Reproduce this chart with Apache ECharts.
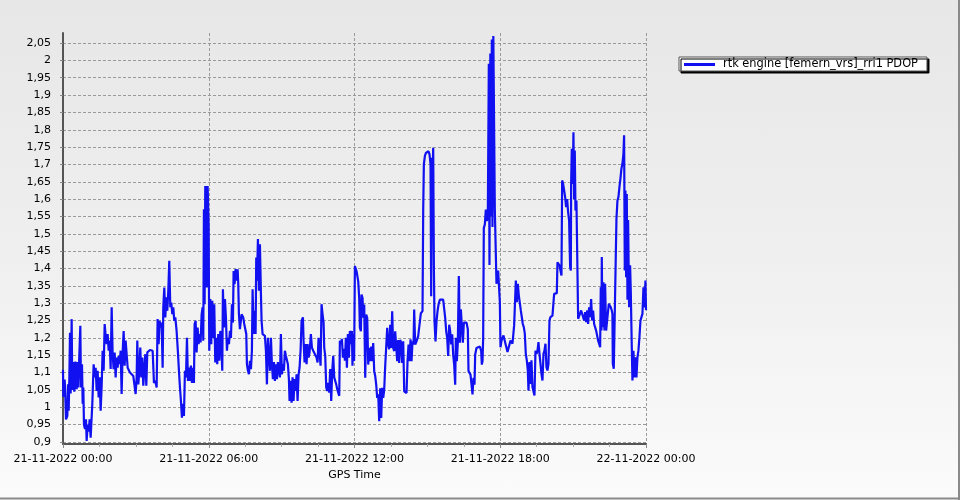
<!DOCTYPE html>
<html>
<head>
<meta charset="utf-8">
<script src="https://cdn.jsdelivr.net/npm/echarts@6/dist/echarts.min.js"></script>
<style>
html,body{margin:0;padding:0;}
#main{width:960px;height:500px;background:linear-gradient(to bottom,#e7e7e7 0%,#efefef 50%,#fbfbfb 100%);}
</style>
</head>
<body>
<div id="main"></div>
<script>
// Minutes since 21-11-2022 00:00 (GPS Time)
const minutes = [
0,0.8,4.1,5.8,7.4,10.7,12.3,14.0,15.6,17.3,18.9,21.4,23.0,25.5,28.0,30.5,33.7,36.2,37.9,40.3,42.8,44.4,46.9,48.6,50.2,51.8,54.3,56.8,58.4,60.9,63.4,65.8,68.3,70.8,72.4,74.1,75.7,78.2,80.7,83.1,85.6,88.1,90.5,93.0,95.5,97.9,100.4,102.9,105.3,107.8,110.3,112.8,115.2,117.7,120.2,122.6,125.1,127.6,130.0,132.5,135.0,137.4,139.9,142.4,144.8,147.3,149.8,152.3,154.7,157.2,159.7,162.1,165.4,169.5,173.7,177.8,179.4,181.9,183.5,186.0,188.5,190.9,193.4,195.9,198.3,200.8,203.3,205.8,208.2,210.7,214.8,221.4,224.7,228.0,231.3,233.7,236.2,238.7,241.1,243.6,246.1,247.7,250.2,252.7,255.1,257.6,260.1,262.5,265.0,267.5,269.9,272.4,274.9,277.4,280.6,283.9,286.4,288.9,291.3,293.8,296.3,298.7,301.2,303.7,306.2,308.6,311.1,313.6,316.0,318.5,321.0,323.4,325.1,327.6,330.0,332.5,335.0,337.4,339.9,342.4,344.8,346.5,348.1,349.8,351.4,353.1,354.7,355.5,357.2,359.7,361.3,
363.8,366.2,368.7,371.2,373.6,376.1,378.6,381.0,383.5,386.0,388.5,390.9,393.4,395.0,397.5,400.0,402.4,404.9,407.4,409.9,412.3,414.8,417.3,419.7,421.4,423.8,426.3,428.8,431.3,432.9,434.5,437.0,441.1,445.2,447.7,450.2,452.7,454.3,456.8,459.2,461.7,464.2,466.6,468.3,470.8,473.2,475.7,477.3,479.0,481.5,483.9,486.4,488.9,490.5,493.0,495.4,498.7,501.2,503.7,506.1,508.6,511.1,513.6,516.0,518.5,521.0,523.4,525.9,528.4,530.8,533.3,535.8,538.2,540.7,543.2,545.6,548.1,550.6,553.1,555.5,558.0,559.6,562.1,564.6,567.0,569.5,572.0,574.5,576.9,579.4,581.9,584.3,586.8,589.3,592.6,594.2,596.7,599.1,601.6,604.1,606.6,609.0,612.3,614.8,618.1,622.2,626.3,628.8,631.2,633.7,636.2,638.6,641.1,643.6,645.2,647.7,650.2,652.6,655.1,657.6,660.0,662.5,665.0,667.5,669.9,672.4,674.9,677.3,679.8,682.3,683.9,686.4,688.9,691.3,693.8,696.3,698.7,701.2,703.7,706.1,708.6,711.1,713.5,715.0,717.0,719.0,
721.0,725.1,729.2,731.6,733.3,735.8,737.4,739.9,741.5,744.0,746.5,748.9,751.4,753.9,756.3,758.8,761.3,763.7,766.2,768.7,771.2,773.6,776.1,778.6,781.0,783.5,786.0,788.4,790.9,793.4,795.8,798.3,800.8,803.2,805.7,808.2,810.7,813.1,815.6,818.1,820.5,823.0,825.5,827.9,830.4,832.9,835.3,837.8,840.3,842.8,845.2,848.5,851.0,853.5,855.9,858.4,860.9,863.3,865.8,867.4,869.9,873.2,877.3,881.4,883.9,888.0,889.7,891.3,893.8,896.2,898.7,902.8,905.3,907.8,909.4,911.1,912.7,914.4,916.0,917.6,920.1,922.6,925.1,927.5,930.8,934.9,939.0,941.5,944.0,946.5,948.9,951.4,953.9,956.3,958.8,961.3,963.7,966.2,968.7,970.3,972.8,975.3,977.7,980.2,982.7,985.1,987.6,990.1,992.5,996.7,999.9,1001.6,1004.1,1006.5,1009.8,1011.5,1013.9,1016.4,1018.1,1021.3,1025.5,1029.6,1032.9,1034.5,1036.2,1037.8,1039.4,1041.9,1044.4,1046.9,1049.3,1051.8,1053.4,1055.5,1057.5,1059.2,1060.8,1062.9,1065.0,1066.6,
1069.1,1070.7,1073.2,1074.8,1077.3,1079.0,1080.6,1083.1,1085.5,1088.0,1090.5,1092.9,1095.4,1097.9,1100.4,1102.8,1105.3,1107.8,1110.2,1112.7,1114.3,1116.8,1118.5,1120.9,1123.4,1125.9,1128.3,1130.8,1133.3,1135.7,1138.2,1140.7,1143.1,1145.6,1148.1,1149.7,1152.2,1154.7,1157.1,1159.6,1162.1,1164.5,1167.0,1169.5,1172.0,1174.4,1176.9,1179.4,1181.8,1184.3,1186.8,1189.2,1191.7,1194.2,1196.6,1199.1,1201.6,1204.0,1206.5,1209.0,1211.5,1213.1,1216.4,1219.7,1221.3,1223.8,1226.3,1228.7,1231.2,1232.9,1235.3,1237.8,1240.3,1242.7,1245.2,1247.7,1250.1,1252.6,1254.3,1255.1,1256.7,1259.2,1260.8,1262.5,1264.1,1265.8,1268.2,1270.7,1272.4,1274.8,1277.3,1279.8,1282.2,1284.7,1287.2,1289.6,1292.1,1294.6,1297.0,1299.5,1302.0,1304.5,1306.9,1309.4,1311.9,1314.3,1316.8,1319.3,1321.7,1324.2,1326.7,1328.3,1330.0,1330.8,1332.4,1334.9,1337.4,1339.0,1341.5,1344.0,1346.4,1348.1,1350.5,1353.0,1355.5,1357.1,1358.0,1360.4,1364.5,1366.2,1367.0,1369.5,1371.9,1374.4,1376.9,1379.3,1381.8,1384.3,1385.9,1387.6,1389.2,1390.9,1392.5,1394.2,1395.8,1398.3,1400.7,1402.4,1404.9,1406.5,1409.0,1411.4,1413.9,1416.4,1418.9,1421.3,1423.8,1426.3,1428.7,1431.2,1433.7,1436.1,1438.6,1440
];
// PDOP values
const pdop = [
1.108,1.03,1.08,1.03,0.965,0.975,1.066,0.99,1.08,1.215,1.04,1.254,1.05,1.13,1.045,1.132,1.052,1.13,1.057,1.148,1.235,1.057,1.124,1.01,1.057,0.95,0.937,0.965,0.903,0.95,0.93,0.965,0.912,0.917,1.01,1.07,1.124,1.086,1.114,1.047,1.105,1.028,1.086,0.99,1.062,1.163,1.105,1.24,1.206,1.182,1.211,1.163,1.192,1.11,1.288,1.153,1.11,1.158,1.086,1.143,1.114,1.148,1.124,1.163,1.038,1.158,1.22,1.12,1.192,1.187,1.114,1.11,1.1,1.105,1.09,1.095,1.038,1.086,1.192,1.066,1.105,1.172,1.086,1.143,1.062,1.105,1.153,1.062,1.158,1.163,1.165,1.163,1.07,1.076,1.057,1.254,1.182,1.249,1.23,1.244,1.114,1.288,1.345,1.259,1.317,1.278,1.336,1.422,1.288,1.302,1.268,1.288,1.249,1.259,1.22,1.158,1.105,1.057,1.018,0.97,1.01,0.975,1.105,1.086,1.2,1.076,1.114,1.076,1.12,1.07,1.114,1.07,1.24,1.249,1.158,1.23,1.182,1.211,1.187,1.268,1.288,1.192,1.571,1.297,1.638,1.432,1.638,1.345,1.638,1.523,1.163,
1.312,1.182,1.307,1.2,1.297,1.129,1.2,1.124,1.211,1.134,1.22,1.182,1.105,1.34,1.23,1.312,1.259,1.163,1.2,1.182,1.22,1.2,1.297,1.244,1.393,1.355,1.398,1.365,1.398,1.355,1.268,1.225,1.268,1.259,1.24,1.24,1.211,1.124,1.105,1.095,1.134,1.11,1.163,1.34,1.211,1.278,1.211,1.432,1.365,1.485,1.336,1.47,1.326,1.249,1.211,1.211,1.206,1.163,1.066,1.2,1.153,1.105,1.2,1.124,1.081,1.13,1.076,1.124,1.081,1.13,1.105,1.086,1.211,1.095,1.124,1.105,1.163,1.148,1.143,1.124,1.081,1.018,1.076,1.013,1.086,1.018,1.081,1.047,1.095,1.018,1.095,1.114,1.163,1.249,1.259,1.192,1.129,1.182,1.124,1.182,1.143,1.158,1.211,1.172,1.163,1.158,1.143,1.129,1.2,1.158,1.12,1.297,1.268,1.244,1.172,1.148,1.057,1.047,1.07,1.042,1.11,1.018,1.105,1.148,1.086,1.076,1.066,1.052,1.042,1.033,1.192,1.182,1.197,1.143,1.168,1.134,1.2,1.114,1.211,1.143,1.22,1.182,1.22,1.12,1.21,1.133,
1.407,1.392,1.363,1.315,1.229,1.219,1.325,1.315,1.258,1.296,1.085,1.267,1.258,1.123,1.171,1.133,1.175,1.133,1.185,1.104,1.09,1.065,1.027,1.037,0.96,1.055,0.969,1.056,1.027,1.051,1.118,1.113,1.229,1.181,1.167,1.238,1.171,1.277,1.171,1.162,1.219,1.223,1.133,1.194,1.128,1.194,1.185,1.128,1.19,1.046,1.041,1.041,1.133,1.181,1.133,1.196,1.133,1.19,1.181,1.282,1.181,1.19,1.205,1.21,1.271,1.277,1.565,1.7,1.724,1.733,1.738,1.738,1.729,1.7,1.32,1.719,1.652,1.748,1.412,1.248,1.19,1.248,1.277,1.296,1.31,1.315,1.31,1.306,1.258,1.219,1.2,1.148,1.238,1.219,1.181,1.21,1.152,1.123,1.065,1.2,1.133,1.19,1.378,1.186,1.282,1.233,1.186,1.244,1.244,1.244,1.225,1.104,1.099,1.094,1.09,1.037,1.085,1.065,1.152,1.171,1.175,1.175,1.162,1.123,1.133,1.2,1.517,1.527,1.57,1.537,1.55,1.99,1.41,2.02,1.55,2.06,1.52,2.07,2.07,1.57,
1.567,1.356,1.351,1.394,1.399,1.303,1.173,1.192,1.192,1.207,1.212,1.183,1.188,1.159,1.163,1.163,1.192,1.192,1.183,1.188,1.236,1.231,1.365,1.303,1.356,1.322,1.327,1.279,1.279,1.24,1.231,1.212,1.154,1.135,1.106,1.048,1.13,1.067,1.135,1.058,1.058,1.034,1.163,1.154,1.163,1.188,1.154,1.125,1.096,1.077,1.154,1.163,1.183,1.115,1.106,1.125,1.25,1.26,1.26,1.264,1.269,1.327,1.329,1.329,1.418,1.418,1.409,1.394,1.38,1.654,1.644,1.625,1.606,1.577,1.6,1.562,1.538,1.404,1.394,1.644,1.745,1.644,1.793,1.6,1.74,1.567,1.596,1.596,1.255,1.252,1.26,1.279,1.274,1.284,1.25,1.274,1.245,1.279,1.24,1.288,1.26,1.312,1.25,1.279,1.24,1.236,1.221,1.207,1.192,1.183,1.173,1.346,1.221,1.433,1.231,1.36,1.221,1.356,1.221,1.221,1.221,1.298,1.298,1.288,1.279,1.269,1.125,1.111,1.111,1.111,1.543,1.596,1.606,1.635,1.66,1.688,1.702,1.731,1.784,1.394,1.625,1.375,1.615,1.31,1.54,1.288,1.409,1.335,1.173,1.077,1.163,1.086,1.144,1.086,1.144,1.163,1.202,1.25,1.25,1.269,1.346,1.288,1.365,1.28
];
const yTicks = [0.9,0.95,1,1.05,1.1,1.15,1.2,1.25,1.3,1.35,1.4,1.45,1.5,1.55,1.6,1.65,1.7,1.75,1.8,1.85,1.9,1.95,2,2.05];
const seriesName = 'rtk engine [femern_vrs]_rri1 PDOP';
const axisTitle = 'GPS Time';

const data = minutes.map((m, i) => [m, pdop[i]]);
const pad = n => (n < 10 ? '0' : '') + n;
function fmtTime(m) {
  const d = new Date(Date.UTC(2022, 10, 21) + Math.round(m) * 60000);
  return pad(d.getUTCDate()) + '-' + pad(d.getUTCMonth() + 1) + '-' + d.getUTCFullYear() + ' ' + pad(d.getUTCHours()) + ':' + pad(d.getUTCMinutes());
}
const font = 'DejaVu Sans';
const chart = echarts.init(document.getElementById('main'), null, {renderer: 'canvas'});
chart.setOption({
  animation: false,
  grid: {left: 63, right: 314, top: 33, bottom: 56},
  legend: {
    left: 679, top: 57,
    data: [seriesName],
    icon: 'rect', itemWidth: 31, itemHeight: 3, itemGap: 0,
    backgroundColor: '#ffffff', borderColor: '#555', borderWidth: 1,
    padding: [2, 9, 1, 5],
    shadowColor: '#000', shadowBlur: 0, shadowOffsetX: 2, shadowOffsetY: 2,
    textStyle: {fontFamily: font, fontSize: 11.4, color: '#000', padding: [0, 0, 0, 3]}
  },
  xAxis: {
    type: 'value', min: 0, max: 1440, interval: 360,
    name: axisTitle, nameLocation: 'middle', nameGap: 24,
    nameTextStyle: {fontFamily: font, fontSize: 11, color: '#000'},
    axisLine: {show: true, onZero: false, lineStyle: {color: '#555', width: 2}},
    axisTick: {show: true, length: 4, lineStyle: {color: '#888'}},
    minorTick: {show: true, splitNumber: 4, length: 3, lineStyle: {color: '#aaa'}},
    axisLabel: {formatter: fmtTime, fontFamily: font, fontSize: 11, color: '#000', margin: 10, showMinLabel: true, showMaxLabel: true},
    splitLine: {show: true, lineStyle: {color: '#9a9a9a', type: [3, 2], width: 1}}
  },
  yAxis: {
    type: 'value', min: 0.894, max: 2.079, offset: 4,
    axisLine: {show: true, lineStyle: {color: '#555', width: 2}},
    axisTick: {show: true, length: 3, customValues: yTicks, lineStyle: {color: '#888'}},
    axisLabel: {customValues: yTicks, fontFamily: font, fontSize: 11, color: '#000', margin: 8,
      formatter: v => String(+(+v).toFixed(2)).replace('.', ',')},
    splitLine: {show: true, lineStyle: {color: '#9a9a9a', type: [3, 2], width: 1}}
  },
  graphic: [
    {type: 'line', shape: {x1: 0, y1: 498.5, x2: 960, y2: 498.5}, style: {stroke: '#8a8a8a', lineWidth: 2}},
    {type: 'line', shape: {x1: 959, y1: 0, x2: 959, y2: 500}, style: {stroke: '#8a8a8a', lineWidth: 2}}
  ],
  series: [{
    name: seriesName, type: 'line', data: data,
    showSymbol: false, symbol: 'none',
    lineStyle: {color: '#1010f0', width: 2.2},
    itemStyle: {color: '#1010f0'}
  }]
});
</script>
</body>
</html>
